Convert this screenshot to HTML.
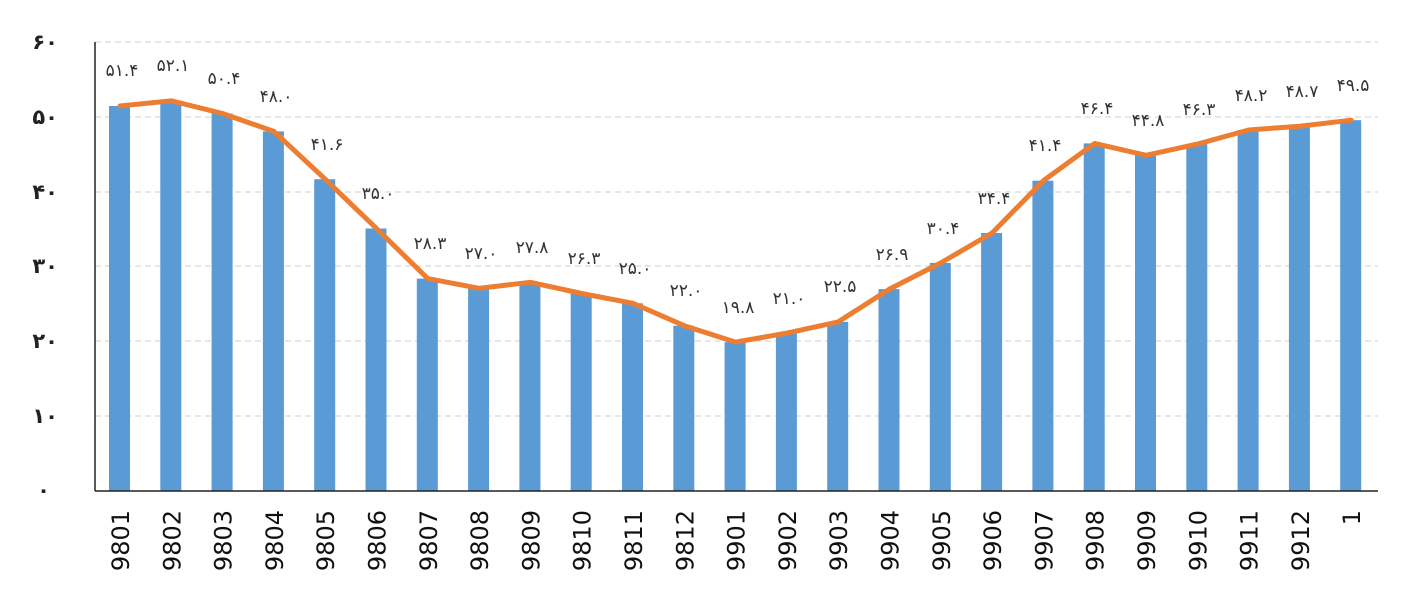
<!DOCTYPE html>
<html><head><meta charset="utf-8"><style>body{margin:0;background:#fff}svg{display:block}text{font-family:"DejaVu Sans","Liberation Sans",sans-serif}</style></head>
<body>
<svg width="1417" height="606" viewBox="0 0 1417 606" xmlns="http://www.w3.org/2000/svg">
<g stroke="#cfcfcf" stroke-dasharray="6,4" stroke-width="1">
<line x1="95" x2="1378" y1="42" y2="42"/><line x1="95" x2="1378" y1="117" y2="117"/><line x1="95" x2="1378" y1="192" y2="192"/><line x1="95" x2="1378" y1="266" y2="266"/><line x1="95" x2="1378" y1="341" y2="341"/><line x1="95" x2="1378" y1="416" y2="416"/>
</g>
<g font-size="21" fill="#222" text-anchor="end" font-weight="bold">
<text x="58" y="49">۶۰</text><text x="58" y="124">۵۰</text><text x="58" y="199">۴۰</text><text x="58" y="273">۳۰</text><text x="58" y="348">۲۰</text><text x="58" y="423">۱۰</text><text x="50" y="497">۰</text>
</g>
<g fill="#5b9bd5">
<rect x="109" y="106" width="21" height="385"/>
<rect x="160.3" y="100.8" width="21" height="390.2"/>
<rect x="211.6" y="113.5" width="21" height="377.5"/>
<rect x="262.9" y="131.4" width="21" height="359.6"/>
<rect x="314.2" y="179.2" width="21" height="311.8"/>
<rect x="365.5" y="228.5" width="21" height="262.5"/>
<rect x="416.8" y="278.6" width="21" height="212.4"/>
<rect x="468.1" y="288.3" width="21" height="202.7"/>
<rect x="519.4" y="282.3" width="21" height="208.7"/>
<rect x="570.7" y="293.5" width="21" height="197.5"/>
<rect x="622" y="303.3" width="21" height="187.7"/>
<rect x="673.3" y="325.7" width="21" height="165.3"/>
<rect x="724.6" y="342.1" width="21" height="148.9"/>
<rect x="775.9" y="333.1" width="21" height="157.9"/>
<rect x="827.2" y="321.9" width="21" height="169.1"/>
<rect x="878.5" y="289.1" width="21" height="201.9"/>
<rect x="929.8" y="262.9" width="21" height="228.1"/>
<rect x="981.1" y="233" width="21" height="258"/>
<rect x="1032.4" y="180.7" width="21" height="310.3"/>
<rect x="1083.7" y="143.4" width="21" height="347.6"/>
<rect x="1135" y="155.3" width="21" height="335.7"/>
<rect x="1186.3" y="144.1" width="21" height="346.9"/>
<rect x="1237.6" y="130" width="21" height="361"/>
<rect x="1288.9" y="126.2" width="21" height="364.8"/>
<rect x="1340.2" y="120.2" width="21" height="370.8"/>
</g>
<polyline fill="none" stroke="#ed7d31" stroke-width="5" stroke-linejoin="round" stroke-linecap="round" points="120,106 171.3,100.8 222.6,113.5 273.9,131.4 325.2,179.2 376.5,228.5 427.8,278.6 479.1,288.3 530.4,282.3 581.7,293.5 633,303.3 684.3,325.7 735.6,342.1 786.9,333.1 838.2,321.9 889.5,289.1 940.8,262.9 992.1,233 1043.4,180.7 1094.7,143.4 1146,155.3 1197.3,144.1 1248.6,130 1299.9,126.2 1351.2,120.2"/>
<line x1="95" y1="42" x2="95" y2="491" stroke="#222" stroke-width="1.5"/>
<line x1="95" y1="491" x2="1378" y2="491" stroke="#222" stroke-width="1.5"/>
<g font-size="17" fill="#333" text-anchor="middle" direction="ltr">
<text x="122" y="76">۵۱.۴</text><text x="173" y="71">۵۲.۱</text><text x="224" y="84">۵۰.۴</text><text x="276" y="102">۴۸.۰</text><text x="327" y="150">۴۱.۶</text><text x="378" y="199">۳۵.۰</text><text x="430" y="249">۲۸.۳</text><text x="481" y="259">۲۷.۰</text><text x="532" y="253">۲۷.۸</text><text x="584" y="264">۲۶.۳</text><text x="635" y="274">۲۵.۰</text><text x="686" y="296">۲۲.۰</text><text x="738" y="313">۱۹.۸</text><text x="789" y="304">۲۱.۰</text><text x="840" y="292">۲۲.۵</text><text x="892" y="260">۲۶.۹</text><text x="943" y="234">۳۰.۴</text><text x="994" y="204">۳۴.۴</text><text x="1045" y="151">۴۱.۴</text><text x="1097" y="114">۴۶.۴</text><text x="1148" y="126">۴۴.۸</text><text x="1199" y="115">۴۶.۳</text><text x="1251" y="101">۴۸.۲</text><text x="1302" y="97">۴۸.۷</text><text x="1353" y="91">۴۹.۵</text>
</g>
<g font-size="24" fill="#111" text-anchor="end" font-family="Liberation Sans">
<text transform="translate(129,510) rotate(-90)">9801</text>
<text transform="translate(180.3,510) rotate(-90)">9802</text>
<text transform="translate(231.6,510) rotate(-90)">9803</text>
<text transform="translate(282.9,510) rotate(-90)">9804</text>
<text transform="translate(334.2,510) rotate(-90)">9805</text>
<text transform="translate(385.5,510) rotate(-90)">9806</text>
<text transform="translate(436.8,510) rotate(-90)">9807</text>
<text transform="translate(488.1,510) rotate(-90)">9808</text>
<text transform="translate(539.4,510) rotate(-90)">9809</text>
<text transform="translate(590.7,510) rotate(-90)">9810</text>
<text transform="translate(642,510) rotate(-90)">9811</text>
<text transform="translate(693.3,510) rotate(-90)">9812</text>
<text transform="translate(744.6,510) rotate(-90)">9901</text>
<text transform="translate(795.9,510) rotate(-90)">9902</text>
<text transform="translate(847.2,510) rotate(-90)">9903</text>
<text transform="translate(898.5,510) rotate(-90)">9904</text>
<text transform="translate(949.8,510) rotate(-90)">9905</text>
<text transform="translate(1001.1,510) rotate(-90)">9906</text>
<text transform="translate(1052.4,510) rotate(-90)">9907</text>
<text transform="translate(1103.7,510) rotate(-90)">9908</text>
<text transform="translate(1155,510) rotate(-90)">9909</text>
<text transform="translate(1206.3,510) rotate(-90)">9910</text>
<text transform="translate(1257.6,510) rotate(-90)">9911</text>
<text transform="translate(1308.9,510) rotate(-90)">9912</text>
<text transform="translate(1360.2,510) rotate(-90)">1</text>
</g>
</svg>
</body></html>
